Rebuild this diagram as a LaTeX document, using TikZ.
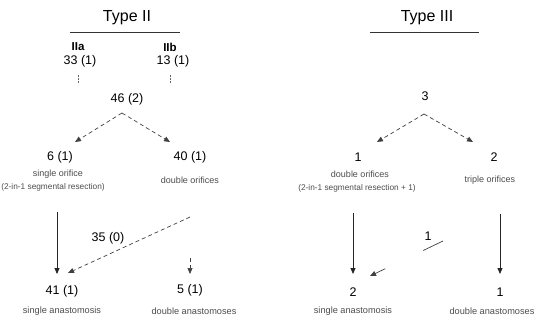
\documentclass[tikz,border=0pt]{standalone}
\usepackage{fontspec}
\setmainfont{Liberation Sans}
\usetikzlibrary{arrows.meta}
\begin{document}
\begin{tikzpicture}[x=1pt,y=-1pt,
  title/.style={font=\fontsize{16}{18}\selectfont, inner sep=0pt},
  num/.style={font=\fontsize{12.5}{14}\selectfont, inner sep=0pt},
  sub/.style={font=\fontsize{11.5}{13}\selectfont\bfseries, inner sep=0pt},
  small/.style={font=\fontsize{9}{10}\selectfont, inner sep=0pt, text=black!70},
  smaller/.style={font=\fontsize{8.3}{10}\selectfont, inner sep=0pt, text=black!70},
  bottom/.style={font=\fontsize{9.2}{11}\selectfont, inner sep=0pt, text=black!70},
  solidarr/.style={-{Triangle[length=6pt,width=5pt]}, line width=0.8pt, black!85},
  dasharr/.style={-{Triangle[length=6pt,width=5pt]}, dash pattern=on 4pt off 3pt, line width=0.7pt, black!75},
  uline/.style={line width=0.8pt, black!80},
  tickline/.style={line width=0.6pt, black!60, dash pattern=on 2pt off 1pt}]
\useasboundingbox (0,0) rectangle (539,322);

% ---------- Type II ----------
\node[title] (t2) at (127,18) {Type II};
\coordinate (u2a) at (70,32);
\coordinate (u2b) at (180,32);
\draw[uline] (u2a) -- (u2b);

\node[sub] (iia) at (78,47) {IIa};
\node[sub] (iib) at (170,47) {IIb};
\node[num] (n33) at (80,61) {33 (1)};
\node[num] (n13) at (173,61) {13 (1)};
\coordinate (ta1) at (78,75); \coordinate (ta2) at (78,84);
\coordinate (tb1) at (170,75); \coordinate (tb2) at (170,84);
\draw[tickline] (ta1) -- (ta2);
\draw[tickline] (tb1) -- (tb2);

\node[num] (n46) at (127,99) {46 (2)};
\coordinate (p2) at (122,113);
\coordinate (a6) at (75,142);
\coordinate (a40) at (170,142);
\draw[dasharr] (p2) -- (a6);
\draw[dasharr] (p2) -- (a40);

\node[num] (n6) at (60,157) {6 (1)};
\node[num] (n40) at (190,157) {40 (1)};
\node[small] (so) at (58,174) {single orifice};
\node[smaller] (sr) at (53,187) {(2-in-1 segmental resection)};
\node[small] (do) at (190,180) {double orifices};

\coordinate (s41a) at (57,212);
\coordinate (s41b) at (57,274);
\draw[solidarr] (s41a) -- (s41b);
\coordinate (d35a) at (190,217);
\coordinate (d35b) at (68,273);
\draw[dasharr] (d35a) -- (d35b);
\node[num] (n35) at (108,238) {35 (0)};
\coordinate (d5a) at (190,258);
\coordinate (d5b) at (190,274);
\draw[dasharr] (d5a) -- (d5b);

\node[num] (n41) at (62,291) {41 (1)};
\node[num] (n5) at (190,290) {5 (1)};
\node[bottom] (sa) at (62,311) {single anastomosis};
\node[bottom] (da) at (194,311) {double anastomoses};

% ---------- Type III ----------
\node[title] (t3) at (427,18) {Type III};
\coordinate (u3a) at (370,32);
\coordinate (u3b) at (479,32);
\draw[uline] (u3a) -- (u3b);

\node[num] (n3) at (425,96) {3};
\coordinate (p3) at (424,114);
\coordinate (a1) at (377,142);
\coordinate (a2) at (473,142);
\draw[dasharr] (p3) -- (a1);
\draw[dasharr] (p3) -- (a2);

\node[num] (m1) at (358,157) {1};
\node[num] (m2) at (494,157) {2};
\node[small] (do3) at (360,174) {double orifices};
\node[smaller] (sr3) at (357,188) {(2-in-1 segmental resection + 1)};
\node[small] (to3) at (490,180) {triple orifices};

\coordinate (s2a) at (353,213);
\coordinate (s2b) at (353,274);
\draw[solidarr] (s2a) -- (s2b);
\coordinate (s1a) at (500,214);
\coordinate (s1b) at (500,274);
\draw[solidarr] (s1a) -- (s1b);
\coordinate (d1a) at (443,241);
\coordinate (d1b) at (370,276);
\draw[dasharr, dash pattern=on 22pt off 42pt on 20pt] (d1a) -- (d1b);
\node[num] (l1) at (428,236) {1};

\node[num] (m2b) at (353,292) {2};
\node[num] (m1b) at (500,292) {1};
\node[bottom] (sa3) at (353,311) {single anastomosis};
\node[bottom] (da3) at (492,311) {double anastomoses};
\end{tikzpicture}
\end{document}
